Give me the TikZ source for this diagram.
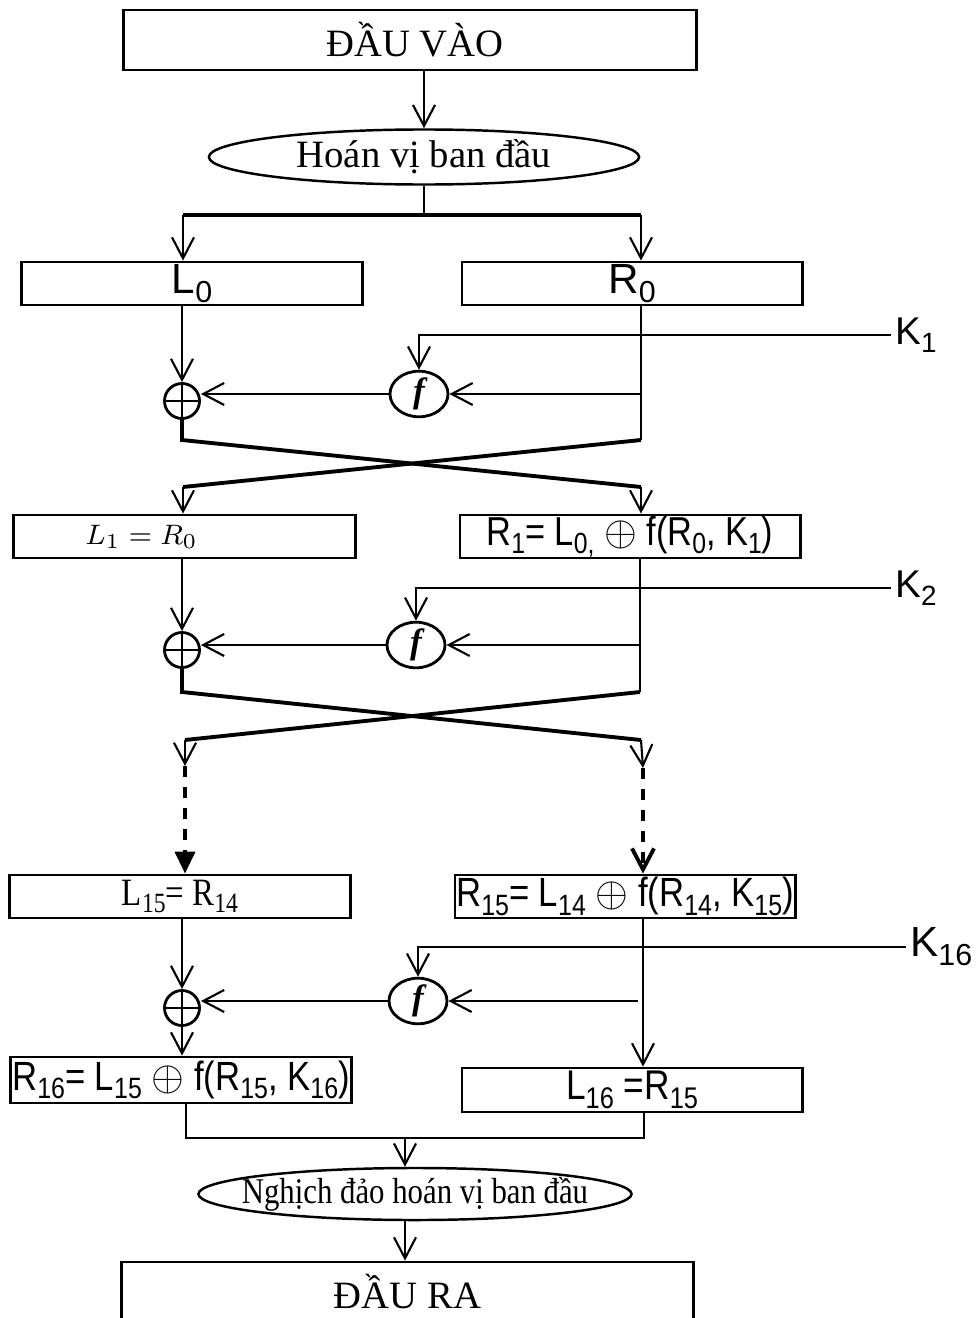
\documentclass[tikz,border=0pt]{standalone}
\usepackage{fontspec}
\setmainfont{Liberation Serif}
\newfontfamily\arialf{Liberation Sans}
\newfontfamily\narrowf[FakeStretch=0.85]{Liberation Sans}
\newfontfamily\narrowserif[FakeStretch=0.85]{Liberation Serif}
\usepackage{tikz}
\usetikzlibrary{shapes.geometric, arrows.meta, positioning}

\newcommand{\kidx}[1]{\raisebox{-0.4ex}{\scalebox{0.72}{#1}}}

\begin{document}
\begin{tikzpicture}[
    x=0.01cm, y=-0.01cm,
    box/.style={rectangle, draw, line width=0.8pt, minimum width=3.4cm,
                minimum height=0.43cm, inner sep=0pt, align=center},
    bigbox/.style={box, minimum width=5.72cm, minimum height=0.6cm,
                font=\fontsize{11}{13}\selectfont},
    perm/.style={ellipse, draw, line width=0.7pt, inner sep=0pt},
    xorop/.style={circle, draw, line width=0.8pt, minimum size=0.35cm, inner sep=0pt,
                path picture={\draw[line width=0.8pt]
                  (path picture bounding box.north) -- (path picture bounding box.south)
                  (path picture bounding box.west) -- (path picture bounding box.east);}},
    fun/.style={ellipse, draw, line width=0.8pt, minimum width=0.58cm,
                minimum height=0.29cm, inner sep=0pt,
                font=\fontsize{10}{10}\selectfont\bfseries\itshape},
    klab/.style={anchor=west, inner sep=1pt, font=\arialf\fontsize{11}{13}\selectfont},
    arr/.style={-{Straight Barb[length=2.1mm,width=2.2mm]}, line width=0.6pt},
    heavy/.style={line width=1.1pt}
]
    \useasboundingbox (0,0) rectangle (975,1318);

    % input and initial permutation
    \node[bigbox] (in) at (410,40) {\hspace*{0.1cm}ĐẦU VÀO};
    \node[perm, minimum width=4.3cm, minimum height=0.55cm,
          font=\fontsize{11}{13}\selectfont] (ip) at (424,157) {Hoán vị ban đầu};
    \coordinate (sl) at (183,215);
    \coordinate (sr) at (641,215);

    \node[box, font=\arialf\fontsize{12}{14}\selectfont] (L0) at (192,283.5) {L\kidx{0}};
    \node[box, font=\arialf\fontsize{12}{14}\selectfont] (R0) at (632,283.5) {R\kidx{0}};

    \draw[arr] (in.south -| ip) -- (ip.north);
    \draw (ip.south) -- (ip.south |- sl);
    \draw[heavy] (sl) -- (sr);
    \draw[arr] (sl) -- (L0.north -| sl);
    \draw[arr] (sr) -- (R0.north -| sr);

    % round 1
    \node[xorop] (x1) at (182,401) {};
    \node[fun] (f1) at (419,394) {f};
    \node[klab] (k1) at (891,335) {K\kidx{1}};
    \coordinate (t1) at (641,394);
    \coordinate (c1l) at (182,440);
    \coordinate (c1r) at (641,440);
    \coordinate (d1l) at (183,487);
    \coordinate (d1r) at (641,487);

    \node[box, minimum width=3.41cm, font=\fontsize{8.5}{10}\selectfont] (L1) at (184.5,536.5)
        {\hspace*{-0.86cm}$L_1 = R_0$};
    \node[box, font=\narrowf\fontsize{11.5}{13}\selectfont] (R1) at (630,536.5)
        {R\kidx{1}= L\kidx{0,} $\oplus$ f(R\kidx{0}, K\kidx{1})};

    \draw[arr] (L0.south -| x1) -- (x1);
    \draw[line width=0.8pt] (R0.south -| c1r) -- (c1r);
    \draw[heavy, arr] (k1.west) -| (f1.north);
    \draw[heavy, arr] (t1) -- (f1.east);
    \draw[heavy, arr] (f1.west) -- (f1.west -| x1.east);
    \draw[heavy] (x1.south) -- (c1l) -- (d1r);
    \draw[heavy] (c1r) -- (d1l);
    \draw[arr] (d1l) -- (L1.north -| d1l);
    \draw[arr] (d1r) -- (R1.north -| d1r);

    % round 2
    \node[xorop] (x2) at (182,650) {};
    \node[fun] (f2) at (416,645) {f};
    \node[klab] (k2) at (891,588) {K\kidx{2}};
    \coordinate (t2) at (639,645);
    \coordinate (c2l) at (182,692);
    \coordinate (c2r) at (640,692);
    \coordinate (d2l) at (185,740);
    \coordinate (d2r) at (641,740);
    \coordinate (e2l) at (185,766);
    \coordinate (e2r) at (643,768);

    \draw[arr] (L1.south -| x2) -- (x2);
    \draw[line width=0.8pt] (R1.south -| c2r) -- (c2r);
    \draw[heavy, arr] (k2.west) -| (f2.north);
    \draw[heavy, arr] (t2) -- (f2.east);
    \draw[heavy, arr] (f2.west) -- (f2.west -| x2.east);
    \draw[heavy] (x2.south) -- (c2l) -- (d2r);
    \draw[heavy] (c2r) -- (d2l);
    \draw[arr] (d2l) -- (e2l);
    \draw[arr] (d2r) -- (e2r);

    % rounds 3 to 15 left out
    \node[box, font=\narrowserif\fontsize{11}{13}\selectfont] (L15) at (180,896.5) {L\kidx{15}= R\kidx{14}};
    \node[box, font=\narrowf\fontsize{11.6}{14}\selectfont] (R15) at (625,896.5)
        {R\kidx{15}= L\kidx{14} $\oplus$ f(R\kidx{14}, K\kidx{15})};

    \draw[heavy, dashed, -{Triangle[length=2.2mm,width=2mm]}] (e2l) -- (L15.north -| e2l);
    \draw[arr, heavy, dashed] (e2r) -- (R15.north -| e2r);

    % round 16
    \node[xorop] (x16) at (182,1008) {};
    \node[fun] (f16) at (418,1001) {f};
    \node[klab, font=\arialf\fontsize{12}{14}\selectfont] (k16) at (906,947) {K\kidx{16}};
    \coordinate (t16) at (638,1001);
    \coordinate (v16) at (643,918);

    \node[box, minimum height=0.46cm, font=\narrowf\fontsize{11.6}{14}\selectfont] (R16) at (181,1080)
        {R\kidx{16}= L\kidx{15} $\oplus$ f(R\kidx{15}, K\kidx{16})};
    \node[box, minimum height=0.44cm, font=\narrowf\fontsize{11.8}{14}\selectfont] (L16) at (632,1090)
        {L\kidx{16} =R\kidx{15}};

    \draw[arr] (L15.south -| x16) -- (x16);
    \draw[line width=0.8pt, arr] (v16) -- (L16.north -| v16);
    \draw[heavy, arr] (k16.west) -| (f16.north);
    \draw[heavy, arr] (t16) -- (f16.east);
    \draw[heavy, arr] (f16.west) -- (f16.west -| x16.east);
    \draw[arr] (x16.south) -- (R16.north -| x16);

    % final permutation and output
    \coordinate (m1) at (186,1138);
    \coordinate (m2) at (644,1138);
    \coordinate (m3) at (405,1138);
    \node[perm, minimum width=4.25cm, minimum height=0.52cm, inner xsep=-0.2cm, inner ysep=-0.02cm,
          font=\narrowserif\fontsize{10.3}{12}\selectfont] (fp) at (415,1194) {Nghịch đảo hoán vị ban đầu};
    \node[bigbox, minimum width=5.71cm] (out) at (407.5,1292) {ĐẦU RA};

    \draw (R16.south -| m1) -- (m1) -- (m2) -- (L16.south -| m2);
    \draw[arr] (m3) -- (fp.north -| m3);
    \draw[arr] (fp.south -| m3) -- (out.north -| m3);
\end{tikzpicture}
\end{document}
